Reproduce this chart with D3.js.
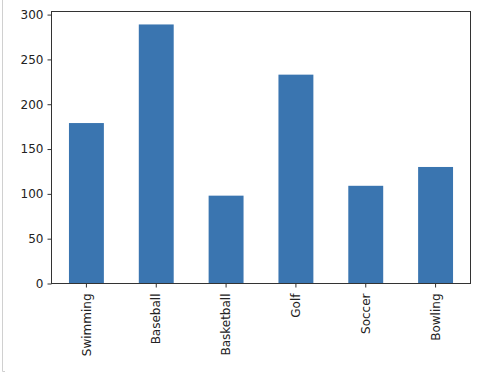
<!DOCTYPE html>
<html>
<head>
<meta charset="utf-8">
<script src="https://cdn.jsdelivr.net/npm/d3@7"></script>
<style>
  html, body { margin: 0; padding: 0; background: #fff; }
  svg { display: block; }
  text { font-family: "DejaVu Sans", sans-serif; }
</style>
</head>
<body>
<svg id="chart" width="504" height="375"></svg>
<script>
const categories = ["Swimming", "Baseball", "Basketball", "Golf", "Soccer", "Bowling"];
const values = [179, 289, 98, 233, 109, 130];
const yTicks = [0, 50, 100, 150, 200, 250, 300];

const svg = d3.select("#chart");
const plotLeft = 51.5, plotRight = 470.5, plotTop = 11.5, plotBottom = 283.5;

// notebook output frame
svg.append("path")
  .attr("d", "M2.5,0 V371.5 H5")
  .attr("fill", "none")
  .attr("stroke", "#d0d0d0")
  .attr("stroke-width", 1);

const x = d3.scaleBand()
  .domain(categories)
  .range([plotLeft, plotRight])
  .paddingInner(0.5)
  .paddingOuter(0.25);

const y = d3.scaleLinear()
  .domain([0, d3.max(values) * 1.05])
  .range([plotBottom, plotTop]);

svg.append("g")
  .selectAll("rect")
  .data(categories)
  .join("rect")
  .attr("x", d => x(d))
  .attr("width", x.bandwidth())
  .attr("y", (d, i) => y(values[i]))
  .attr("height", (d, i) => y(0) - y(values[i]))
  .attr("fill", "#3a75b0");

const yAxis = svg.append("g")
  .attr("transform", `translate(${plotLeft},0)`)
  .call(d3.axisLeft(y).tickValues(yTicks).tickSize(4).tickPadding(4).tickFormat(d3.format("d")));
yAxis.select(".domain").remove();
yAxis.selectAll("line").attr("stroke", "#333");
yAxis.selectAll("text").attr("font-size", 12).attr("fill", "#222").attr("font-family", "DejaVu Sans");

const xAxis = svg.append("g")
  .attr("transform", `translate(0,${plotBottom})`)
  .call(d3.axisBottom(x).tickSize(4).tickPadding(4));
xAxis.select(".domain").remove();
xAxis.selectAll("line").attr("stroke", "#333");
xAxis.selectAll("text")
  .attr("font-size", 12)
  .attr("fill", "#222")
  .attr("font-family", "DejaVu Sans")
  .attr("transform", "rotate(-90)")
  .attr("text-anchor", "end")
  .attr("dy", "0.35em")
  .attr("x", -10)
  .attr("y", 0);

// axes frame
svg.append("rect")
  .attr("x", plotLeft).attr("y", plotTop)
  .attr("width", plotRight - plotLeft).attr("height", plotBottom - plotTop)
  .attr("fill", "none")
  .attr("stroke", "#333")
  .attr("stroke-width", 1);
</script>
</body>
</html>
